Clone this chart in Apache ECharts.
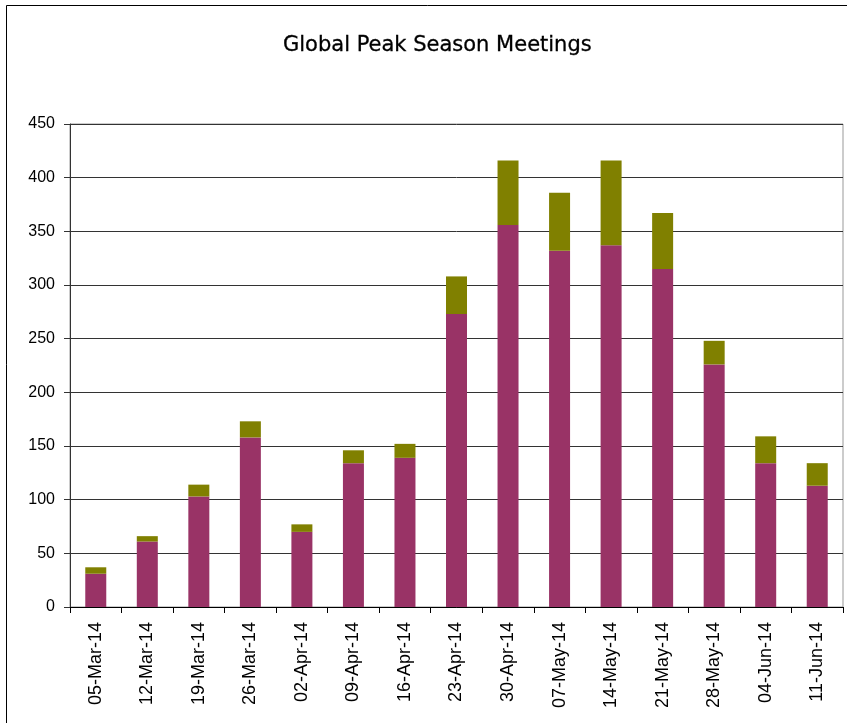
<!DOCTYPE html>
<html>
<head>
<meta charset="utf-8">
<script src="https://cdn.jsdelivr.net/npm/echarts@6/dist/echarts.min.js"></script>
<style>
  html, body { margin: 0; padding: 0; background: #fff; }
  #chart { width: 847px; height: 723px; }
</style>
</head>
<body>
<div id="chart"></div>
<script>
// 周次
var weeks = ['05-Mar-14', '12-Mar-14', '19-Mar-14', '26-Mar-14', '02-Apr-14', '09-Apr-14',
	'16-Apr-14', '23-Apr-14', '30-Apr-14', '07-May-14', '14-May-14', '21-May-14',
	'28-May-14', '04-Jun-14', '11-Jun-14'];
// 下层（紫色）
var lowerValues = [31, 61, 103, 158, 70, 134, 139, 273, 356, 332, 337, 315, 226, 134, 113];
// 上层（橄榄色）
var upperValues = [6, 5, 11, 15, 7, 12, 13, 35, 60, 54, 79, 52, 22, 25, 21];
var yTicks = { min: 0, max: 450, interval: 50 };

var myChart = echarts.init(document.getElementById('chart'));

var option = {
	animation: false,
	backgroundColor: '#fff',
	title: {
		text: 'Global Peak Season Meetings',
		left: 278,
		top: 30,
		textStyle: {
			fontFamily: 'DejaVu Sans',
			fontSize: 21,
			fontWeight: 'normal',
			color: '#000',
			textBorderColor: '#000',
			textBorderWidth: 0.3
		}
	},
	graphic: [{
		type: 'rect',
		shape: { x: 6.5, y: 5.5, width: 900, height: 800 },
		style: { fill: 'none', stroke: '#000', lineWidth: 1 },
		silent: true
	}],
	grid: {
		left: 70,
		right: 4,
		top: 124,
		bottom: 116,
		show: true,
		borderColor: '#999',
		borderWidth: 1
	},
	xAxis: {
		type: 'category',
		data: weeks,
		axisLine: { lineStyle: { color: '#000', width: 1 } },
		axisTick: { show: true, length: 6, lineStyle: { color: '#000' } },
		axisLabel: {
			rotate: 90,
			interval: 0,
			color: '#000',
			fontFamily: 'Liberation Sans',
			fontSize: 18,
			margin: 15
		}
	},
	yAxis: {
		type: 'value',
		min: yTicks.min,
		max: yTicks.max,
		interval: yTicks.interval,
		axisLine: { show: true, lineStyle: { color: '#333', width: 1 } },
		axisTick: { show: true, length: 6, lineStyle: { color: '#333' } },
		axisLabel: {
			color: '#000',
			fontFamily: 'Liberation Sans',
			fontSize: 16,
			margin: 15
		},
		splitLine: { lineStyle: { color: '#333', width: 1 } }
	},
	series: [
		{
			type: 'bar',
			stack: 'total',
			data: lowerValues,
			barWidth: 21,
			itemStyle: { color: '#993366' }
		},
		{
			type: 'bar',
			stack: 'total',
			data: upperValues,
			barWidth: 21,
			itemStyle: { color: '#808000' }
		}
	]
};

myChart.setOption(option);
</script>
</body>
</html>
